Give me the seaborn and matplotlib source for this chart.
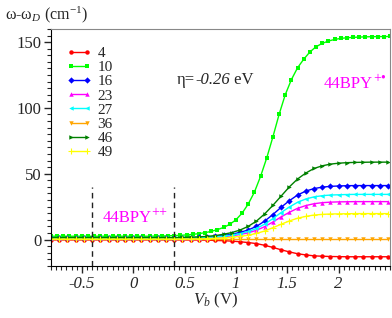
import numpy as np
import pandas as pd
import matplotlib
matplotlib.use("Agg")
import matplotlib.pyplot as plt
from matplotlib.ticker import MultipleLocator
import seaborn as sns

# bias grid for the lime (10) curve and for the rest
vb_fine = np.round(np.arange(-0.8, 2.51, 0.06), 2)
vb = np.round(np.arange(-0.8, 2.49, 0.08), 2)

shift_10 = [2.5, 2.5, 2.5, 2.5, 2.5, 2.5, 2.5, 2.5, 2.5, 2.5, 2.5, 2.5, 2.5, 2.5, 2.5, 2.5, 2.5,
            2.6, 2.7, 2.8, 3.0, 3.2, 3.5, 3.9, 4.5, 5.2, 6.2, 7.5, 9.2, 11.5, 15.0, 20.0,
            27.0, 36.0, 48.0, 62.0, 78.0, 95.0, 110.0, 121.5, 130.5, 137.0, 142.5, 146.5,
            149.0, 150.8, 152.0, 152.8, 153.3, 153.6, 153.8, 154.0, 154.1, 154.2, 154.2, 154.3]

shift_4 = [-0.3, -0.3, -0.3, -0.3, -0.3, -0.3, -0.3, -0.3, -0.3, -0.3, -0.3, -0.3, -0.3, -0.3, -0.3, -0.3,
           -0.3, -0.4, -0.4, -0.5, -0.7, -0.9, -1.2, -1.7, -2.3, -3.1, -4.4, -6.0, -7.8, -9.4,
           -10.8, -11.7, -12.4, -12.7, -12.9, -13.0, -13.1, -13.1, -13.1, -13.1, -13.1, -13.1]
shift_16 = [1.2, 1.2, 1.2, 1.2, 1.2, 1.2, 1.2, 1.2, 1.2, 1.2, 1.2, 1.2, 1.2, 1.2, 1.2, 1.2,
            1.3, 1.4, 1.6, 1.9, 2.4, 3.1, 4.0, 5.4, 7.3, 10.0, 14.0, 19.0, 24.5, 29.5,
            33.8, 36.8, 38.7, 39.8, 40.4, 40.7, 40.9, 41.0, 41.0, 41.0, 41.0, 41.0]
shift_23 = [0.8, 0.8, 0.8, 0.8, 0.8, 0.8, 0.8, 0.8, 0.8, 0.8, 0.8, 0.8, 0.8, 0.8, 0.8, 0.8,
            0.9, 0.9, 1.1, 1.3, 1.6, 2.1, 2.8, 3.8, 5.1, 7.0, 9.8, 13.3, 17.2, 20.7,
            23.7, 25.8, 27.2, 28.0, 28.4, 28.6, 28.7, 28.8, 28.8, 28.8, 28.8, 28.8]
shift_27 = [1.0, 1.0, 1.0, 1.0, 1.0, 1.0, 1.0, 1.0, 1.0, 1.0, 1.0, 1.0, 1.0, 1.0, 1.0, 1.0,
            1.1, 1.2, 1.3, 1.6, 2.0, 2.6, 3.3, 4.5, 6.1, 8.4, 11.7, 15.9, 20.5, 24.7,
            28.3, 30.8, 32.4, 33.3, 33.8, 34.0, 34.2, 34.3, 34.3, 34.3, 34.3, 34.3]
shift_36 = [0.3, 0.3, 0.3, 0.3, 0.3, 0.3, 0.3, 0.3, 0.3, 0.3, 0.3, 0.3, 0.3, 0.3, 0.3, 0.3,
            0.3, 0.3, 0.3, 0.3, 0.3, 0.3, 0.3, 0.3, 0.3, 0.3, 0.3, 0.3, 0.3, 0.3,
            0.3, 0.3, 0.3, 0.3, 0.3, 0.3, 0.3, 0.3, 0.3, 0.3, 0.3, 0.3]
shift_46 = [1.5, 1.5, 1.5, 1.5, 1.5, 1.5, 1.5, 1.5, 1.5, 1.5, 1.5, 1.5, 1.5, 1.5, 1.5, 1.5,
            1.6, 1.8, 2.0, 2.4, 3.0, 4.0, 5.3, 7.2, 10.0, 14.0, 19.5, 26.0, 33.0, 40.0,
            46.0, 50.5, 54.0, 56.0, 57.3, 58.0, 58.4, 58.6, 58.7, 58.8, 58.8, 58.8]
shift_49 = [0.3, 0.3, 0.3, 0.3, 0.3, 0.3, 0.3, 0.3, 0.3, 0.3, 0.3, 0.3, 0.3, 0.3, 0.3, 0.3,
            0.35, 0.4, 0.5, 0.65, 0.9, 1.2, 1.7, 2.4, 3.3, 4.6, 6.5, 9.0, 11.6, 14.1,
            16.2, 17.6, 18.6, 19.1, 19.4, 19.5, 19.6, 19.7, 19.7, 19.7, 19.7, 19.7]

labels = ["4", "10", "16", "23", "27", "36", "46", "49"]
colors = ["#ff0000", "#00ff00", "#0000ff", "#ff00ff", "#00ffff", "#ffa500", "#008000", "#ffff00"]
markers = ["o", "s", "D", "^", "<", "v", ">", "+"]

series = [(vb, shift_4), (vb_fine, shift_10), (vb, shift_16), (vb, shift_23),
          (vb, shift_27), (vb, shift_36), (vb, shift_46), (vb, shift_49)]

sns.set_style("ticks")
plt.rcParams["font.family"] = ["Liberation Serif", "DejaVu Serif"]
plt.rcParams["mathtext.fontset"] = "custom"
plt.rcParams["mathtext.rm"] = "Liberation Serif"
plt.rcParams["mathtext.it"] = "Liberation Serif:italic"

fig = plt.figure(figsize=(3.92, 3.18), dpi=100)
ax = fig.add_axes([0.130, 0.164, 0.865, 0.745])

for (x, y), lab, c, m in zip(series, labels, colors, markers):
    df = pd.DataFrame({"Vb": x, "shift": y})
    sns.lineplot(data=df, x="Vb", y="shift", ax=ax, color=c, marker=m,
                 markersize=3.2 if m != "+" else 4, markeredgewidth=0.8 if m == "+" else 0,
                 markeredgecolor=c, linewidth=1.0, label=lab)

# region boundaries
for xv in [-0.4, 0.4]:
    ax.plot([xv, xv], [-20, 40], ls=(0, (4, 3)), color="#222222", lw=1.0)

ax.set_xlim(-0.8, 2.5)
ax.set_ylim(-20, 160)
ax.set_xticks([-0.5, 0, 0.5, 1, 1.5, 2])
ax.set_xticklabels(["-0.5", "0", "0.5", "1", "1.5", "2"], fontstyle="italic")
ax.set_yticks([0, 50, 100, 150])
ax.xaxis.set_minor_locator(MultipleLocator(0.05))
ax.yaxis.set_minor_locator(MultipleLocator(5))
ax.tick_params(which="major", direction="out", length=5, width=1, labelsize=12, pad=2)
ax.tick_params(which="minor", direction="out", length=3, width=0.8)
ax.set_xlabel("")
ax.set_ylabel("")
for s in ["top", "right"]:
    ax.spines[s].set_color("#888888")
for s in ["left", "bottom"]:
    ax.spines[s].set_color("black")

ax.legend(loc="upper left", bbox_to_anchor=(0.02, 0.965), frameon=False, fontsize=11,
          numpoints=2, handlelength=1.6, handletextpad=0.4, labelspacing=0.03, borderaxespad=0.2)

# eta label: upright symbol, italic number
t_eta = ax.text(0.476, 0.752, "-0.26", transform=ax.transAxes, fontsize=12,
                fontstyle="italic", ha="center", va="bottom")
ax.annotate("η=", xy=(0, 0), xycoords=t_eta, fontsize=12, ha="right", va="bottom")
ax.annotate(" eV", xy=(1, 0), xycoords=t_eta, fontsize=12, ha="left", va="bottom")

t_rad = ax.text(0.950, 0.735, "44BPY", transform=ax.transAxes, fontsize=12,
                color="#ff00ff", ha="right", va="bottom")
ax.annotate("+•", xy=(1.0, 0.40), xycoords=t_rad, fontsize=10, color="#ff00ff",
            ha="left", va="bottom")
t_dic = ax.text(0.224, 0.17, "44BPY", transform=ax.transAxes, fontsize=12,
                color="#ff00ff", ha="center", va="bottom")
ax.annotate("++", xy=(1.0, 0.40), xycoords=t_dic, fontsize=10, color="#ff00ff",
            ha="left", va="bottom")

fig.text(0.012, 0.955, r"ω-ω$_D$ (cm$^{-1}$)", fontsize=11.5, ha="left", va="center")
fig.text(0.55, 0.055, r"$V_b$ (V)", fontsize=12, ha="center", va="center")

fig.savefig("out.png", dpi=100)
